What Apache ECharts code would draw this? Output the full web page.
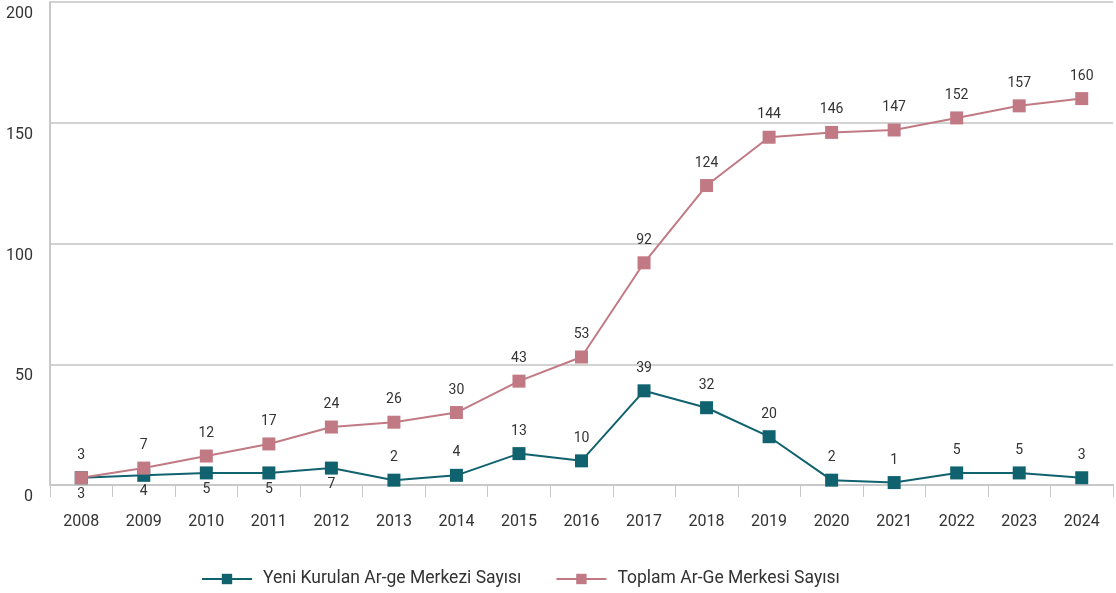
<!DOCTYPE html>
<html>
<head>
<meta charset="utf-8">
<script src="https://cdn.jsdelivr.net/npm/echarts@6/dist/echarts.min.js"></script>
<style>
  body { margin: 0; padding: 0; background: #fff; }
  #chart { width: 1116px; height: 593px; }
</style>
</head>
<body>
<div id="chart"></div>
<script>
var years = ['2008','2009','2010','2011','2012','2013','2014','2015','2016','2017','2018','2019','2020','2021','2022','2023','2024'];
var yeniKurulan = [3, 4, 5, 5, 7, 2, 4, 13, 10, 39, 32, 20, 2, 1, 5, 5, 3];
var toplam = [3, 7, 12, 17, 24, 26, 30, 43, 53, 92, 124, 144, 146, 147, 152, 157, 160];
// first few labels of the new-centre series sit under the points
var yeniLabelBelow = [true, true, true, true, true];

var fontName = 'Roboto, "Noto Sans", sans-serif';
var chart = echarts.init(document.getElementById('chart'));

var yeniData = yeniKurulan.map(function (v, i) {
  return yeniLabelBelow[i] ? { value: v, label: { position: 'bottom', distance: 3 } } : v;
});

var option = {
  animation: false,
  textStyle: { fontFamily: fontName },
  grid: { left: 50, right: 3, top: 2, bottom: 108, outerBoundsMode: 'none' },
  legend: {
    top: 565,
    left: 196,
    itemWidth: 50,
    itemHeight: 13,
    itemGap: 34,
    textStyle: { fontSize: 17.5, color: '#333', fontFamily: fontName, padding: [0, 0, 0, 6] },
    data: ['Yeni Kurulan Ar-ge Merkezi Sayısı', 'Toplam Ar-Ge Merkesi Sayısı']
  },
  xAxis: {
    type: 'category',
    data: years,
    boundaryGap: true,
    axisLine: { lineStyle: { color: '#c8c8c8', width: 2 } },
    axisTick: { show: true, interval: 0, length: 12, lineStyle: { color: '#c8c8c8', width: 1 } },
    axisLabel: { interval: 0, margin: 29, fontSize: 16, color: '#333' }
  },
  yAxis: {
    type: 'value',
    min: 0,
    max: 200,
    interval: 50,
    axisLine: { show: true, lineStyle: { color: '#c8c8c8', width: 2 } },
    axisTick: { show: false },
    axisLabel: { fontSize: 16, color: '#333', margin: 17, verticalAlign: 'top', padding: [4, 0, 0, 0] },
    splitLine: { show: true, lineStyle: { color: '#d2d2d2', width: 2 } }
  },
  series: [
    {
      name: 'Yeni Kurulan Ar-ge Merkezi Sayısı',
      type: 'line',
      data: yeniData,
      symbol: 'rect',
      symbolSize: 13,
      z: 2,
      itemStyle: { color: '#11626f' },
      lineStyle: { color: '#11626f', width: 2 },
      label: { show: true, position: 'top', distance: 9, fontSize: 14, color: '#333' }
    },
    {
      name: 'Toplam Ar-Ge Merkesi Sayısı',
      type: 'line',
      data: toplam,
      symbol: 'rect',
      symbolSize: 13,
      z: 3,
      itemStyle: { color: '#c17a84' },
      lineStyle: { color: '#c17a84', width: 2 },
      label: { show: true, position: 'top', distance: 9, fontSize: 14, color: '#333' }
    }
  ]
};
chart.setOption(option);
</script>
</body>
</html>
